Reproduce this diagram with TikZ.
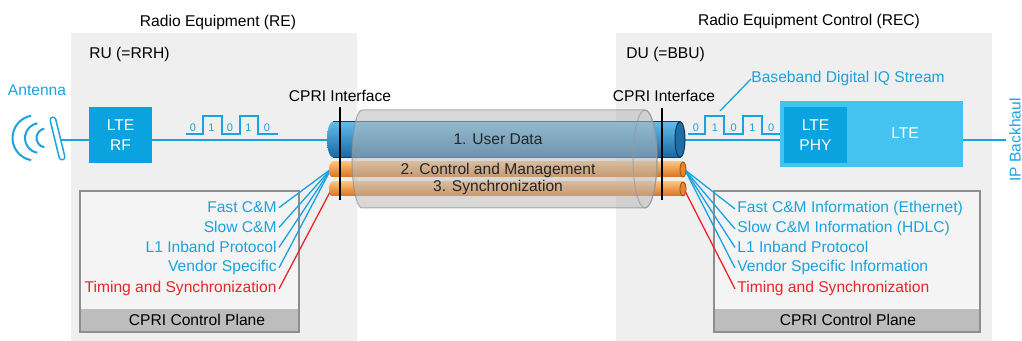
\documentclass[tikz,border=0pt]{standalone}
\usepackage{fontspec}
\setmainfont{Liberation Sans}
\usetikzlibrary{positioning}

\definecolor{cpblue}{HTML}{1AA3E0}
\definecolor{ltelight}{HTML}{45C3F0}
\definecolor{ltedark}{HTML}{0AA2DF}
\definecolor{panel}{HTML}{EFEFEF}
\definecolor{planefill}{HTML}{F4F4F4}
\definecolor{planestrip}{HTML}{BDBDBD}
\definecolor{planeedge}{HTML}{8E8E8E}
\definecolor{syncred}{HTML}{E8262C}
\definecolor{udtop}{HTML}{63BDEA}
\definecolor{udmid}{HTML}{2A8FCB}
\definecolor{udbot}{HTML}{1767A5}
\definecolor{udface}{HTML}{1C6EA8}
\definecolor{cmtop}{HTML}{FBC07A}
\definecolor{cmmid}{HTML}{F39A3A}
\definecolor{cmbot}{HTML}{D9731F}
\definecolor{cmface}{HTML}{E8832C}

\begin{document}
\begin{tikzpicture}[x=0.5pt,y=-0.5pt,
    txt/.style={font=\fontsize{7.8}{10}\selectfont, inner sep=0pt},
    bluetxt/.style={txt, text=cpblue},
    redtxt/.style={txt, text=syncred},
    bit/.style={font=\fontsize{5.5}{6}\selectfont, text=cpblue, inner sep=0pt},
    ltebox/.style={txt, text=white, align=center, minimum width=31.5pt, minimum height=28pt},
    wire/.style={cpblue, line width=1.25pt},
    wave/.style={cpblue, line width=0.9pt},
    fan/.style={cpblue, line width=0.65pt},
    redfan/.style={syncred, line width=0.65pt},
    ifline/.style={black, line width=1pt},
    plane/.style={draw=planeedge, line width=1pt, fill=planefill},
    udshade/.style={top color=udtop, middle color=udmid, bottom color=udbot},
    cmshade/.style={top color=cmtop, middle color=cmmid, bottom color=cmbot}]

\useasboundingbox (0,0) rectangle (1022,341);

% RE and REC panels
\fill[panel] (71,33) rectangle (357,341);
\fill[panel] (616,33) rectangle (992,341);
\node[txt, anchor=base] (re) at (218,27) {Radio Equipment (RE)};
\node[txt, anchor=base] (rec) at (809,26) {Radio Equipment Control (REC)};
\node[txt, anchor=base west] (ru) at (89,59) {RU (=RRH)};
\node[txt, anchor=base west] (du) at (626,59) {DU (=BBU)};

% control planes
\draw[plane] (80,191) rectangle (299,332);
\fill[planestrip] (81,309) rectangle (298,331);
\draw[planeedge, line width=1pt] (80,191) rectangle (299,332);
\node[txt, anchor=base] (cpL) at (197,326) {CPRI Control Plane};

\draw[plane] (714,191) rectangle (980,332);
\fill[planestrip] (715,309) rectangle (979,331);
\draw[planeedge, line width=1pt] (714,191) rectangle (980,332);
\node[txt, anchor=base] (cpR) at (848,326) {CPRI Control Plane};

\node[bluetxt, anchor=base east, inner sep=1pt] (fastL) at (279,213) {Fast C\&M};
\node[bluetxt, anchor=base east, inner sep=1pt] (slowL) at (279,233) {Slow C\&M};
\node[bluetxt, anchor=base east, inner sep=1pt] (inbandL) at (279,253) {L1 Inband Protocol};
\node[bluetxt, anchor=base east, inner sep=1pt] (vendorL) at (279,272) {Vendor Specific};
\node[redtxt, anchor=base east, inner sep=1pt] (timingL) at (279,293) {Timing and Synchronization};

\node[bluetxt, anchor=base west, inner sep=1pt] (fastR) at (735,213) {Fast C\&M Information (Ethernet)};
\node[bluetxt, anchor=base west, inner sep=1pt] (slowR) at (735,233) {Slow C\&M Information (HDLC)};
\node[bluetxt, anchor=base west, inner sep=1pt] (inbandR) at (735,253) {L1 Inband Protocol};
\node[bluetxt, anchor=base west, inner sep=1pt] (vendorR) at (735,272) {Vendor Specific Information};
\node[redtxt, anchor=base west, inner sep=1pt] (timingR) at (735,293) {Timing and Synchronization};

% cable ports
\coordinate (udL) at (327,140);
\coordinate (udR) at (685,140);
\coordinate (cmL) at (331,169);
\coordinate (cmR) at (685,170);
\coordinate (syL) at (330,192);
\coordinate (syR) at (685,191);

\foreach \n in {fastL,slowL,inbandL,vendorL}
  \draw[fan] (cmL) -- (\n.east);
\draw[redfan] (syL) -- (timingL.east);
\foreach \n in {fastR,slowR,inbandR,vendorR}
  \draw[fan] (cmR) -- (\n.west);
\draw[redfan] (syR) -- (timingR.west);

% antenna
\node[bluetxt, anchor=base] (ant) at (37,96) {Antenna};
\coordinate (mast) at (60,140);
\draw[cpblue, line width=1pt] ([shift={(100:22.5)}]35,138) arc[start angle=100, end angle=260, radius=22.5];
\draw[cpblue, line width=1pt] ([shift={(100:15)}]40,138) arc[start angle=100, end angle=260, radius=15];
\draw[cpblue, line width=1pt] ([shift={(100:9.5)}]46,138) arc[start angle=100, end angle=260, radius=9.5];

% RU chain
\node[ltebox, fill=ltedark] (rf) at (120.5,135) {LTE\\RF};
\draw[wire] (mast) -- (mast -| rf.west);
\draw[wire] (udL -| rf.east) -- (udL);
\draw[cpblue, line width=3.6pt, line cap=round] (53,120) -- (62,157);
\draw[white, line width=2pt, line cap=round] (53,120) -- (62,157);

\draw[wave] (186,134) -- (203,134) -- (203,116) -- (222,116) -- (222,134) -- (240,134)
  -- (240,116) -- (258,116) -- (258,134) -- (278,134);
\foreach \b [count=\i from 0] in {0,1,0,1,0}
  \node[bit] at (193+18.5*\i,128) {\b};

% DU chain
\node[txt, fill=ltelight, minimum width=91.5pt, minimum height=33pt] (lte) at (871.5,134) {};
\node[ltebox, fill=ltedark] (phy) at (815.5,135) {LTE\\PHY};
\node[txt, text=white] (ltetxt) at (905,133) {LTE};
\draw[wire] (udR) -- (udR -| lte.west);
\coordinate (bh) at (1006,140);
\draw[wire] (bh -| lte.east) -- (bh);
\node[bluetxt, rotate=90, anchor=north] (ipbh) at (1009,140) {IP Backhaul};

\draw[wave] (688,134) -- (705,134) -- (705,116) -- (724,116) -- (724,134) -- (743,134)
  -- (743,116) -- (762,116) -- (762,134) -- (780,134);
\foreach \b [count=\i from 0] in {0,1,0,1,0}
  \node[bit] at (696+18.8*\i,128) {\b};
\node[bluetxt, anchor=base west] (bb) at (751,83) {Baseband Digital IQ Stream};
\coordinate (bit1) at (720,111);
\draw[fan] (bb.west) -- (bit1);

% CPRI cables
\shade[udshade] (333,139.5) ellipse[x radius=6, y radius=18];
\shade[udshade] (333,121.5) rectangle (680,157.5);
\draw[udface!60!black, line width=0.4pt] (333,121.5) -- (680,121.5) (333,157.5) -- (680,157.5);
\fill[udface] (680,139.5) ellipse[x radius=5, y radius=18];
\draw[udface!50!black, line width=0.5pt] (680,139.5) ellipse[x radius=5, y radius=18];

\shade[cmshade] (332,169.5) ellipse[x radius=3, y radius=7.5];
\shade[cmshade] (332,162) rectangle (683,177);
\fill[cmface] (683,169.5) ellipse[x radius=3, y radius=7.5];
\draw[cmbot!70!black, line width=0.4pt] (683,169.5) ellipse[x radius=3, y radius=7.5];

\shade[cmshade] (332,189) ellipse[x radius=3, y radius=7];
\shade[cmshade] (332,182) rectangle (683,196);
\fill[cmface] (683,189) ellipse[x radius=3, y radius=7];
\draw[cmbot!70!black, line width=0.4pt] (683,189) ellipse[x radius=3, y radius=7];

% CPRI link
\path[fill=black!28, fill opacity=0.55, draw=black!45, draw opacity=0.7, line width=0.5pt]
  (362,110) -- (645,110) arc[start angle=-90, end angle=90, x radius=12, y radius=49]
  -- (362,208) arc[start angle=90, end angle=270, x radius=10, y radius=49] -- cycle;
\draw[black!40, draw opacity=0.7, line width=0.5pt] (645,159) ellipse[x radius=12, y radius=49];

\node[txt, text=black!85, anchor=base] (ud) at (498,145) {1. User Data};
\node[txt, text=black!85, anchor=base] (cm) at (498,175) {2. Control and Management};
\node[txt, text=black!85, anchor=base] (sy) at (498,192) {3. Synchronization};

% CPRI interfaces
\node[txt, anchor=base] (cpriL) at (340,102) {CPRI Interface};
\node[txt, anchor=base] (cpriR) at (664,102) {CPRI Interface};
\draw[ifline] (340,107) -- (340,200);
\draw[ifline] (662,108) -- (662,200);

\end{tikzpicture}
\end{document}
